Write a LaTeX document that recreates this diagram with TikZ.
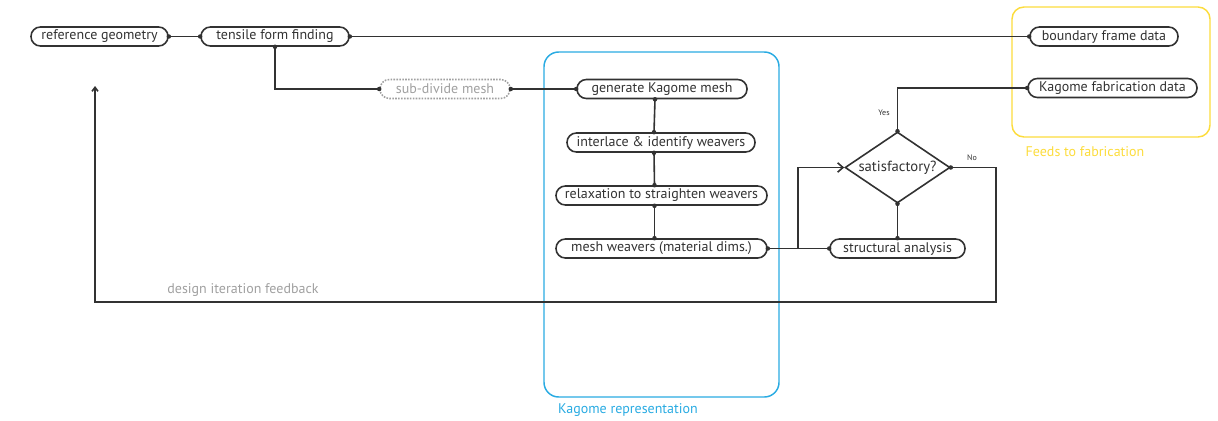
\documentclass[tikz,border=0pt]{standalone}
\usepackage{fontspec}
\setmainfont{PT Sans}
\usepackage{xcolor}
\usepackage{tikz}
\usetikzlibrary{shapes.geometric, calc}
\usetikzlibrary{arrows.meta}
\definecolor{C0}{RGB}{ 50, 50, 50}
\definecolor{C1}{RGB}{ 41,171,226}
\definecolor{C2}{RGB}{252,220, 60}
\definecolor{C3}{RGB}{160,160,160}
\tikzset{
  pill/.style={draw=C0, line width=1.2pt, rounded corners=7pt, minimum height=14.25pt,
    minimum width=#1, inner sep=0pt, font=\fontsize{10.5}{12}\selectfont, text=C0},
  wire/.style={C0, line width=1.2pt},
  tag/.style={font=\fontsize{6}{7}\selectfont, text=C0},
}
\begin{document}
\begin{tikzpicture}[x=0.75pt, y=-0.75pt]
    \useasboundingbox (0,0) rectangle (1218,421);
    %% group frames
    \draw[C1, line width=1.1pt, rounded corners=11pt] (544,52) rectangle (779,397);
    \node[C1, font=\fontsize{10.5}{12}\selectfont] (kaglab) at (628,410) {Kagome representation};
    \draw[C2, line width=1.1pt, rounded corners=9pt] (1012,7) rectangle (1210,137);
    \node[C2, font=\fontsize{10.5}{12}\selectfont] (fablab) at (1085,152) {Feeds to fabrication};
    %% steps
    \node[pill=102.75pt] (ref) at (99.5,36.5)  {reference geometry};
    \node[pill=111pt]    (tff) at (275,36.5)   {tensile form finding};
    \node[pill=97.5pt, draw=C3, densely dotted, text=C3] (sub) at (445,89) {sub-divide mesh};
    \node[pill=127.5pt]  (gen) at (662,89)     {generate Kagome mesh};
    \node[pill=141pt]    (ilv) at (661,142.5)  {interlace \& identify weavers};
    \node[pill=158.25pt] (rsw) at (661.5,195.5) {relaxation to straighten weavers};
    \node[pill=158.25pt] (mwv) at (661.5,248.5) {mesh weavers (material dims.)};
    \node[pill=101.25pt] (sta) at (897.5,248.5) {structural analysis};
    \node[draw=C0, line width=1.2pt, shape=diamond, aspect=1.48, inner sep=0pt,
          minimum width=78.75pt, minimum height=53.25pt, text=C0,
          font=\fontsize{11}{12}\selectfont] (sat) at (897.5,167.5) {satisfactory?};
    \node[pill=111pt]    (bfd) at (1104,36.5)  {boundary frame data};
    \node[pill=126.75pt] (kfd) at (1112.5,88)  {Kagome fabrication data};
    %% turning points
    \coordinate (J) at (798,248.5);
    \coordinate (N) at (996,302);
    \coordinate (A) at (95,86);
    %% connectors
    \draw[wire] (ref.east) -- (tff.west);
    \draw[wire] (tff.east) -- (bfd.west);
    \draw[wire] (tff.south) |- (sub.west);
    \draw[wire] (sub.east) -- (gen.west);
    \draw[wire] ($(gen.south)+(-7,0)$) -- ($(ilv.north)+(-7,0)$);
    \draw[wire] ($(ilv.south)+(-7,0)$) -- ($(rsw.north)+(-7,0)$);
    \draw[wire] ($(rsw.south)+(-7,0)$) -- ($(mwv.north)+(-7,0)$);
    \draw[wire] (mwv.east) -- (sta.west);
    \draw[wire, -{Straight Barb[length=4pt, width=7pt]}] (J) |- (sat.west);
    \draw[wire] (sat.south) -- (sta.north);
    \draw[wire] (sat.north) |- (kfd.west);
    \draw[wire, -{Straight Barb[length=3pt, width=4.5pt]}] (sat.east) -| (N) -| (A);
    %% branch labels
    \node[tag] (yes) at (884,113) {Yes};
    \node[tag] (no)  at (972,158) {No};
    \node[C3, font=\fontsize{10.5}{12}\selectfont] (fb) at (243,290) {design iteration feedback};
    %% joint dots
    \fill[C0] (ref.east) circle (1.7pt);
    \fill[C0] (tff.west) circle (1.7pt);
    \fill[C0] (tff.east) circle (1.7pt);
    \fill[C0] (tff.south) circle (1.7pt);
    \fill[C0] (sub.west) circle (1.7pt);
    \fill[C0] (sub.east) circle (1.7pt);
    \fill[C0] (gen.west) circle (1.7pt);
    \fill[C0] ($(gen.south)+(-7,0)$) circle (1.7pt);
    \fill[C0] ($(ilv.north)+(-7,0)$) circle (1.7pt);
    \fill[C0] ($(ilv.south)+(-7,0)$) circle (1.7pt);
    \fill[C0] ($(rsw.north)+(-7,0)$) circle (1.7pt);
    \fill[C0] ($(rsw.south)+(-7,0)$) circle (1.7pt);
    \fill[C0] ($(mwv.north)+(-7,0)$) circle (1.7pt);
    \fill[C0] (mwv.east) circle (1.7pt);
    \fill[C0] (sta.west) circle (1.7pt);
    \fill[C0] (sta.north) circle (1.7pt);
    \fill[C0] (sat.south) circle (1.7pt);
    \fill[C0] (sat.north) circle (1.7pt);
    \fill[C0] (sat.east) circle (1.7pt);
    \fill[C0] (bfd.west) circle (1.7pt);
    \fill[C0] (kfd.west) circle (1.7pt);
\end{tikzpicture}
\end{document}
